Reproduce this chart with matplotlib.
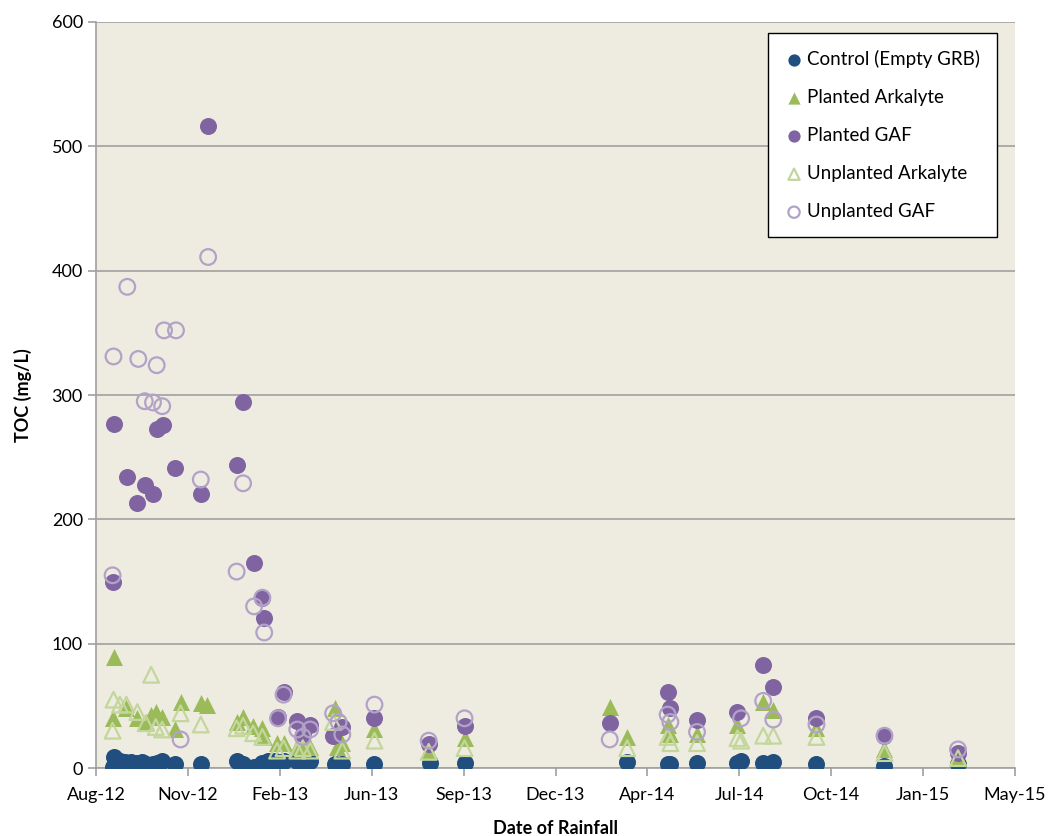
import matplotlib
matplotlib.use("Agg")
import matplotlib.pyplot as plt
import matplotlib.dates as mdates
import numpy as np
import pandas as pd

plt.rcParams['font.family'] = ['Lato', 'DejaVu Sans']

# Control (Empty GRB)
control_dates = ['2012-08-27', '2012-08-29', '2012-09-04', '2012-09-10', '2012-09-16', '2012-09-22',
                 '2012-09-28', '2012-10-02', '2012-10-06', '2012-10-10', '2012-10-14', '2012-10-20',
                 '2012-11-03', '2012-12-01', '2013-01-09', '2013-01-16', '2013-01-28', '2013-02-06',
                 '2013-02-12', '2013-02-20', '2013-03-01', '2013-03-16', '2013-03-22', '2013-03-30',
                 '2013-04-26', '2013-05-04', '2013-06-08', '2013-08-07', '2013-09-14', '2014-03-10',
                 '2014-04-23', '2014-04-26', '2014-05-25', '2014-07-08', '2014-07-12', '2014-08-05',
                 '2014-08-16', '2014-10-02', '2014-12-15', '2015-03-05']
control_toc = [1, 9, 6, 5, 5, 4, 5, 3, 2, 3, 4, 6, 3, 3, 6, 3, 1, 4, 6, 6, 6, 6, 5, 6,
               3, 3, 3, 4, 4, 5, 3, 3, 4, 4, 6, 4, 5, 3, 2, 3]

# Planted Arkalyte
p_ark_dates = ['2012-08-27', '2012-08-29', '2012-09-11', '2012-09-23', '2012-10-02', '2012-10-08',
               '2012-10-13', '2012-10-20', '2012-11-03', '2012-11-09', '2012-12-01', '2012-12-08',
               '2013-01-09', '2013-01-16', '2013-01-27', '2013-02-06', '2013-02-08', '2013-02-22',
               '2013-03-01', '2013-03-16', '2013-03-22', '2013-03-30', '2013-04-26', '2013-04-28',
               '2013-05-04', '2013-06-08', '2013-08-06', '2013-09-14', '2014-02-19', '2014-03-10',
               '2014-04-23', '2014-04-26', '2014-05-25', '2014-07-08', '2014-08-05', '2014-08-16',
               '2014-10-02', '2014-12-15', '2015-03-05']
p_ark_toc = [40, 89, 48, 40, 37, 43, 45, 41, 31, 53, 52, 51, 37, 41, 34, 32, 25, 20,
             20, 17, 19, 17, 48, 17, 20, 31, 14, 24, 49, 25, 35, 27, 27, 35, 53, 47,
             32, 15, 10]

# Planted GAF
p_gaf_dates = ['2012-08-27', '2012-08-29', '2012-09-12', '2012-09-23', '2012-10-01', '2012-10-10',
               '2012-10-14', '2012-10-21', '2012-11-03', '2012-12-01', '2012-12-09', '2013-01-09',
               '2013-01-16', '2013-01-28', '2013-02-06', '2013-02-08', '2013-02-23', '2013-03-01',
               '2013-03-16', '2013-03-22', '2013-03-30', '2013-04-24', '2013-05-04', '2013-06-08',
               '2013-08-06', '2013-09-14', '2014-02-19', '2014-04-23', '2014-04-26', '2014-05-25',
               '2014-07-08', '2014-08-05', '2014-08-16', '2014-10-02', '2014-12-15', '2015-03-05']
p_gaf_toc = [150, 277, 234, 213, 228, 220, 273, 276, 241, 220, 516, 244,
             294, 165, 137, 121, 41, 61, 38, 27, 35, 26, 33, 40,
             19, 34, 36, 61, 48, 39, 45, 83, 65, 40, 26, 12]

# Unplanted Arkalyte
u_ark_dates = ['2012-08-27', '2012-08-28', '2012-09-04', '2012-09-11', '2012-09-23', '2012-10-02',
               '2012-10-08', '2012-10-13', '2012-10-20', '2012-11-09', '2012-12-01', '2013-01-09',
               '2013-01-16', '2013-01-27', '2013-02-06', '2013-02-22', '2013-03-01', '2013-03-16',
               '2013-03-22', '2013-03-30', '2013-04-24', '2013-05-04', '2013-06-08', '2013-08-06',
               '2013-09-14', '2014-03-10', '2014-04-23', '2014-04-26', '2014-05-25', '2014-07-08',
               '2014-07-12', '2014-08-05', '2014-08-16', '2014-10-02', '2014-12-15', '2015-03-05']
u_ark_toc = [30, 55, 51, 51, 45, 36, 75, 33, 31, 44, 35, 32,
             34, 28, 25, 14, 16, 14, 16, 14, 37, 14, 22, 13,
             16, 16, 25, 20, 20, 24, 22, 26, 26, 25, 12, 8]

# Unplanted GAF
u_gaf_dates = ['2012-08-27', '2012-08-28', '2012-09-12', '2012-09-24', '2012-10-01', '2012-10-10',
               '2012-10-14', '2012-10-20', '2012-10-22', '2012-11-04', '2012-11-09', '2012-12-01',
               '2012-12-09', '2013-01-09', '2013-01-16', '2013-01-28', '2013-02-06', '2013-02-08',
               '2013-02-23', '2013-03-01', '2013-03-16', '2013-03-22', '2013-03-30', '2013-04-24',
               '2013-04-30', '2013-05-04', '2013-06-08', '2013-08-06', '2013-09-14', '2014-02-19',
               '2014-04-23', '2014-04-26', '2014-05-25', '2014-07-12', '2014-08-05', '2014-08-16',
               '2014-10-02', '2014-12-15', '2015-03-05']
u_gaf_toc = [155, 331, 387, 329, 295, 294, 324, 291, 352, 352, 23, 232,
             411, 158, 229, 130, 137, 109, 40, 59, 31, 25, 31, 44,
             37, 27, 51, 22, 40, 23, 43, 37, 29, 40, 54, 39,
             35, 26, 15]

x_start = pd.Timestamp('2012-08-09')
tick_step_days = 100
n_ticks = 11

fig = plt.figure(figsize=(10.53, 8.36), dpi=100)
ax = fig.add_axes([0.0912, 0.0813, 0.8727, 0.8924])
ax.set_facecolor('#EEECE1')

ms = 150
ax.scatter(pd.to_datetime(control_dates), control_toc, s=ms, marker='o', color='#1F4E7F',
           label='Control (Empty GRB)', zorder=3, linewidths=0)
ax.scatter(pd.to_datetime(p_ark_dates), p_ark_toc, s=ms, marker='^', color='#9BBB59',
           label='Planted Arkalyte', zorder=3, linewidths=0)
ax.scatter(pd.to_datetime(p_gaf_dates), p_gaf_toc, s=ms, marker='o', color='#8064A2',
           label='Planted GAF', zorder=3, linewidths=0)
ax.scatter(pd.to_datetime(u_ark_dates), u_ark_toc, s=ms * 0.85, marker='^', facecolors='none',
           edgecolors='#C3D69B', linewidths=1.6, label='Unplanted Arkalyte', zorder=3)
ax.scatter(pd.to_datetime(u_gaf_dates), u_gaf_toc, s=ms * 0.85, marker='o', facecolors='none',
           edgecolors='#B3A2C7', linewidths=1.6, label='Unplanted GAF', zorder=3)

ticks = [x_start + pd.Timedelta(days=tick_step_days * i) for i in range(n_ticks)]
ax.set_xticks(ticks)
ax.set_xlim(ticks[0], ticks[-1])
ax.xaxis.set_major_formatter(mdates.DateFormatter('%b-%y'))
ax.set_ylim(0, 600)
ax.set_yticks(np.arange(0, 601, 100))

ax.yaxis.grid(True, color='#A0A0A0', linewidth=1.2)
ax.set_axisbelow(True)
for side in ['top', 'right']:
    ax.spines[side].set_visible(False)
for side in ['left', 'bottom']:
    ax.spines[side].set_color('#A0A0A0')
    ax.spines[side].set_linewidth(1.2)
ax.tick_params(axis='both', length=6, width=1.2, labelsize=13, colors='black')
ax.tick_params(axis='both', color='#A0A0A0')
ax.tick_params(axis='x', pad=8)

ax.set_ylabel('TOC (mg/L)', fontsize=13, fontweight='bold', labelpad=14)
ax.set_xlabel('Date of Rainfall', fontsize=13, fontweight='bold', labelpad=12)

leg = ax.legend(loc='upper left', bbox_to_anchor=(0.731, 0.985), borderaxespad=0,
                fontsize=13.5, frameon=True, fancybox=False, markerscale=0.72,
                handletextpad=0.2, handlelength=1.0, labelspacing=1.12,
                borderpad=0.9, scatterpoints=1)
leg.get_frame().set_edgecolor('black')
leg.get_frame().set_facecolor('white')
leg.get_frame().set_linewidth(1.0)
leg.get_frame().set_alpha(1)

fig.savefig('out.png', dpi=100)
